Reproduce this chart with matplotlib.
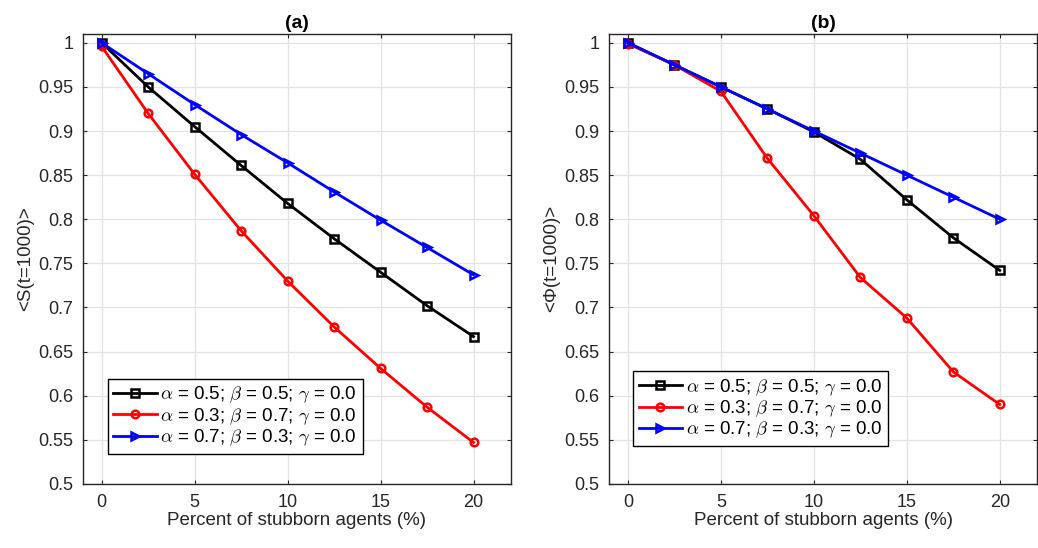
import matplotlib
matplotlib.use('Agg')
import matplotlib.pyplot as plt
from matplotlib.ticker import FuncFormatter

plt.rcParams['font.family'] = ['Liberation Sans', 'DejaVu Sans']
plt.rcParams['mathtext.fontset'] = 'cm'

# pourcentage d'agents têtus
x = [0, 2.5, 5, 7.5, 10, 12.5, 15, 17.5, 20]

# panneau (a) : <S(t=1000)>
s_noir = [1.0, 0.950, 0.905, 0.861, 0.818, 0.778, 0.740, 0.702, 0.667]
s_rouge = [0.996, 0.920, 0.851, 0.787, 0.730, 0.678, 0.631, 0.587, 0.547]
s_bleu = [1.0, 0.965, 0.930, 0.896, 0.864, 0.831, 0.799, 0.768, 0.737]

# panneau (b) : <Phi(t=1000)>
p_noir = [1.0, 0.975, 0.950, 0.925, 0.899, 0.868, 0.822, 0.779, 0.742]
p_rouge = [0.999, 0.975, 0.945, 0.869, 0.804, 0.734, 0.688, 0.627, 0.590]
p_bleu = [1.0, 0.975, 0.950, 0.925, 0.900, 0.875, 0.850, 0.825, 0.800]

labels = [r'$\alpha$ = 0.5; $\beta$ = 0.5; $\gamma$ = 0.0',
          r'$\alpha$ = 0.3; $\beta$ = 0.7; $\gamma$ = 0.0',
          r'$\alpha$ = 0.7; $\beta$ = 0.3; $\gamma$ = 0.0']

gris = '#262626'


def dessiner_panneau(ax, series, titre, ylabel, leg_pos):
    styles = [('k', 's'), ('#ff0000', 'o'), ('#0000ff', '>')]
    for (c, m), y, lab in zip(styles, series, labels):
        ax.plot(x, y, color=c, marker=m, markersize=5.5, markerfacecolor='none',
                markeredgewidth=1.8, linewidth=2.0, label=lab)
    ax.set_xlim(-1, 22)
    ax.set_ylim(0.5, 1.01)
    ax.set_xticks([0, 5, 10, 15, 20])
    ax.set_yticks([0.5, 0.55, 0.6, 0.65, 0.7, 0.75, 0.8, 0.85, 0.9, 0.95, 1.0])
    ax.yaxis.set_major_formatter(FuncFormatter(lambda v, p: '%g' % round(v, 2)))
    ax.grid(True, color='#e3e3e3', linewidth=0.9)
    ax.set_axisbelow(True)
    ax.tick_params(direction='in', top=True, right=True, labelsize=13,
                   colors=gris, length=3, pad=7)
    for sp in ax.spines.values():
        sp.set_color(gris)
        sp.set_linewidth(1.0)
    ax.set_title(titre, fontsize=14, fontweight='bold', pad=4)
    ax.set_xlabel('Percent of stubborn agents (%)', fontsize=13.5, color=gris, labelpad=1)
    ax.set_ylabel(ylabel, fontsize=13.5, color=gris, labelpad=3)
    leg = ax.legend(loc='lower left', bbox_to_anchor=leg_pos, fontsize=13.5,
                    fancybox=False, edgecolor='k', framealpha=1,
                    handlelength=2.3, handletextpad=0.2, borderpad=0.3,
                    labelspacing=0.05, borderaxespad=0)
    leg.get_frame().set_linewidth(1.0)


fig = plt.figure(figsize=(10.38, 5.48), dpi=100)
ax1 = fig.add_axes([0.080, 0.117, 0.412, 0.821])
ax2 = fig.add_axes([0.587, 0.117, 0.412, 0.821])

dessiner_panneau(ax1, [s_noir, s_rouge, s_bleu], '(a)', '<S(t=1000)>', (0.058, 0.067))
dessiner_panneau(ax2, [p_noir, p_rouge, p_bleu], '(b)', '<Φ(t=1000)>', (0.056, 0.084))

fig.savefig('out.png', dpi=100)
